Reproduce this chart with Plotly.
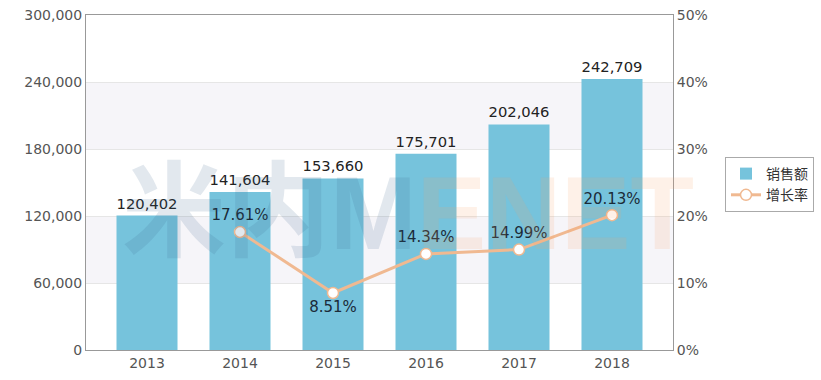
import plotly.graph_objects as go

years = ["2013", "2014", "2015", "2016", "2017", "2018"]
sales = [120402, 141604, 153660, 175701, 202046, 242709]
growth_years = ["2014", "2015", "2016", "2017", "2018"]
growth = [17.61, 8.51, 14.34, 14.99, 20.13]
growth_pos = ["top center", "bottom center", "top center", "top center", "top center"]
left_ticks = [0, 60000, 120000, 180000, 240000, 300000]
right_ticks = [0, 10, 20, 30, 40, 50]

FONT = "Verdana, DejaVu Sans, sans-serif"

fig = go.Figure()
fig.add_trace(go.Bar(
    x=years, y=sales, name="销售额",
    marker=dict(color="#76c3dc", line=dict(width=0)),
    text=[f"{v:,}" for v in sales], textposition="outside",
    textfont=dict(size=15, color="#222222", family=FONT),
    cliponaxis=False,
))
fig.add_trace(go.Scatter(
    x=growth_years, y=growth, name="增长率", yaxis="y2",
    mode="lines+markers+text",
    line=dict(color="#f0b991", width=3),
    marker=dict(size=11, color="white", line=dict(color="#f0b991", width=1.5)),
    text=[f"{v:.2f}%" for v in growth], textposition=growth_pos,
    textfont=dict(size=15, color="#1b2b38", family=FONT),
    cliponaxis=False,
))

# alternating bands
for lo, hi in [(180000, 240000), (60000, 120000)]:
    fig.add_shape(type="rect", xref="paper", yref="y", x0=0, x1=1, y0=lo, y1=hi,
                  fillcolor="#f6f5f9", line=dict(width=0), layer="below")

# legend shadow
fig.add_shape(type="rect", xref="paper", yref="paper",
              x0=(727 - 86) / 587, x1=(813 - 86) / 587,
              y0=(350 - 212) / 335, y1=(350 - 159) / 335,
              fillcolor="rgba(0,0,0,0.18)", line=dict(width=0))

# watermark
fig.add_annotation(
    xref="paper", yref="paper", x=(120 - 86) / 587, y=(350 - 213) / 335,
    xanchor="left", yanchor="middle", showarrow=False,
    text="<b><span style='color:rgba(60,100,140,0.15)'>米内M</span>"
         "<span style='color:rgba(245,160,100,0.15)'>ENET</span></b>",
    font=dict(size=104, family="Liberation Sans Narrow, Liberation Sans, Noto Sans CJK SC",
              weight="bold"),
)

fig.update_layout(
    width=821, height=380,
    margin=dict(l=86, r=148, t=15, b=30, autoexpand=False),
    paper_bgcolor="white", plot_bgcolor="white",
    font=dict(family=FONT, size=14, color="#555555"),
    bargap=0.344,
    showlegend=True,
    legend=dict(
        x=(725 - 86) / 587, y=(350 - 157) / 335, xanchor="left", yanchor="top",
        bgcolor="white", bordercolor="#aaaaaa", borderwidth=1,
        font=dict(size=14, color="#333333", family="Noto Sans CJK SC"),
        itemwidth=30, tracegroupgap=4,
    ),
    xaxis=dict(
        type="category", range=[-0.656, 5.656], automargin=False,
        showline=True, linecolor="#999999", linewidth=1, mirror=True,
        showgrid=False, ticks="", tickfont=dict(size=14, color="#555555"),
    ),
    yaxis=dict(
        range=[0, 300000], tickvals=left_ticks, ticktext=[f"{v:,}" for v in left_ticks],
        automargin=False,
        showline=True, linecolor="#999999", linewidth=1,
        showgrid=True, gridcolor="#e6e6e6", gridwidth=1, zeroline=False,
        ticks="", tickfont=dict(size=14, color="#555555"),
    ),
    yaxis2=dict(
        range=[0, 50], tickvals=right_ticks, ticktext=[f"{v}%" for v in right_ticks],
        overlaying="y", side="right", automargin=False,
        showline=True, linecolor="#999999", linewidth=1,
        showgrid=False, zeroline=False, ticks="",
        tickfont=dict(size=14, color="#555555"),
    ),
)

fig.write_html("out.html", config={"displayModeBar": False},
               post_script="document.body.style.margin='0';")
